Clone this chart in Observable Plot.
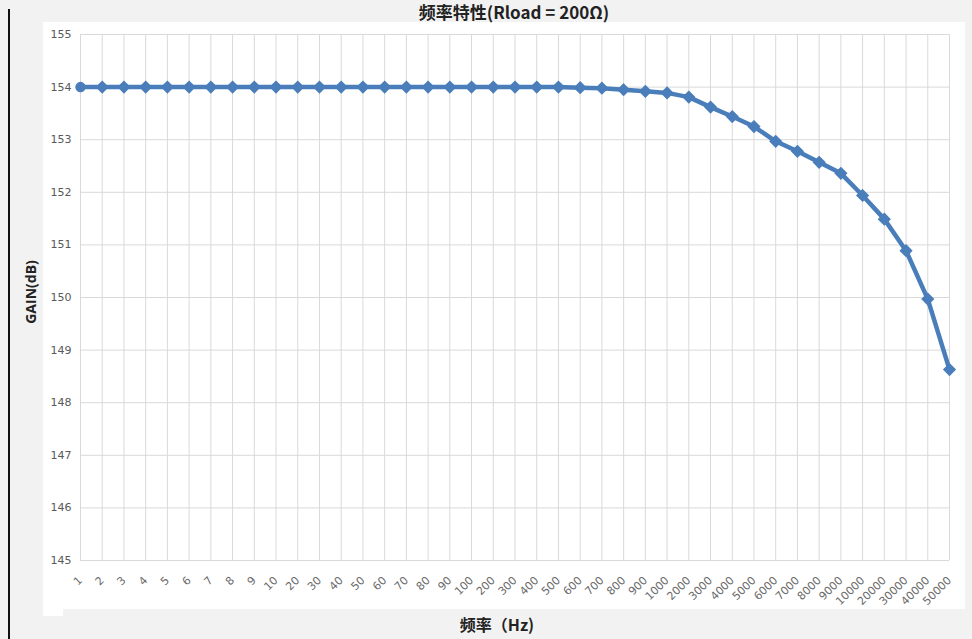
<!DOCTYPE html>
<html>
<head>
<meta charset="utf-8">
<script src="https://cdn.jsdelivr.net/npm/d3@7"></script>
<script src="https://cdn.jsdelivr.net/npm/@observablehq/plot@0.6"></script>
<style>
  html, body { margin: 0; padding: 0; background: #f2f2f2; }
  #wrap { position: relative; width: 972px; height: 639px; overflow: hidden; background: #f2f2f2; }
  #white { position: absolute; left: 43px; top: 22px; width: 922px; height: 587px; background: #ffffff; }
  #white2 { position: absolute; left: 43px; top: 600px; width: 20px; height: 16px; background: #ffffff; }
  #vline { position: absolute; left: 8px; top: 9px; width: 2px; height: 640px; background: #111; }
  #chart { position: absolute; left: 0; top: 0; }
  .title { position: absolute; left: 514px; top: 3px; line-height: 18px; transform: translateX(-50%); font-family: "Noto Sans CJK SC", sans-serif; font-weight: bold; font-size: 17px; color: #222; white-space: nowrap; }
  .xtitle { position: absolute; left: 497px; top: 612px; transform: translateX(-50%); font-family: "Noto Sans CJK SC", sans-serif; font-weight: bold; font-size: 16px; color: #222; white-space: nowrap; }
  .ytitle { position: absolute; left: 30px; top: 292px; transform: translate(-50%, -50%) rotate(-90deg); font-family: "Open Sans", sans-serif; font-weight: bold; font-size: 14px; color: #222; white-space: nowrap; }
</style>
</head>
<body>
<div id="wrap">
  <div id="white"></div>
  <div id="white2"></div>
  <div id="vline"></div>
  <div id="chart"></div>
  <div class="title">频率特性(Rload = 200Ω)</div>
  <div class="xtitle">频率（Hz)</div>
  <div class="ytitle">GAIN(dB)</div>
</div>
<script>
const categories = ["1","2","3","4","5","6","7","8","9",
  "10","20","30","40","50","60","70","80","90",
  "100","200","300","400","500","600","700","800","900",
  "1000","2000","3000","4000","5000","6000","7000","8000","9000",
  "10000","20000","30000","40000","50000"];
const gains = [154.0,154.0,154.0,154.0,154.0,154.0,154.0,154.0,154.0,
  154.0,154.0,154.0,154.0,154.0,154.0,154.0,154.0,154.0,
  154.0,154.0,154.0,154.0,154.0,153.99,153.98,153.95,153.92,
  153.89,153.81,153.62,153.44,153.25,152.97,152.78,152.57,152.36,
  151.94,151.49,150.89,149.97,148.63];
const yTicks = [145,146,147,148,149,150,151,152,153,154,155];

const idx = categories.map((c, i) => i);
const data = categories.map((c, i) => ({i, freq: c, gain: gains[i]}));
const blue = "#4a7ebb";

const chart = Plot.plot({
  width: 972,
  height: 639,
  marginLeft: 80,
  marginRight: 23,
  marginTop: 34,
  marginBottom: 79,
  style: {background: "transparent", fontFamily: "DejaVu Sans, sans-serif", fontSize: "11px", color: "#595959", overflow: "visible"},
  x: {type: "linear", domain: [0, categories.length - 1], label: null},
  y: {domain: [145, 155], label: null},
  marks: [
    Plot.gridY(yTicks, {stroke: "#d9d9d9", strokeOpacity: 1, strokeWidth: 1}),
    Plot.gridX(idx, {stroke: "#d9d9d9", strokeOpacity: 1, strokeWidth: 1}),
    Plot.axisY(yTicks, {tickSize: 0, tickPadding: 9, fontSize: 11, fill: "#595959", tickFormat: d3.format("d")}),
    Plot.axisX(idx, {tickSize: 0, tickPadding: 18, tickRotate: -45, fontSize: 11, fill: "#6a6a6a", tickFormat: i => categories[i]}),
    Plot.line(data, {x: "i", y: "gain", stroke: blue, strokeWidth: 4.5}),
    Plot.dot(data.slice(1), {x: "i", y: "gain", symbol: "diamond2", r: 5, fill: blue, stroke: blue}),
    Plot.dot(data.slice(0, 1), {x: "i", y: "gain", symbol: "circle", r: 4.5, fill: blue, stroke: blue})
  ]
});
document.getElementById("chart").appendChild(chart);
</script>
</body>
</html>
